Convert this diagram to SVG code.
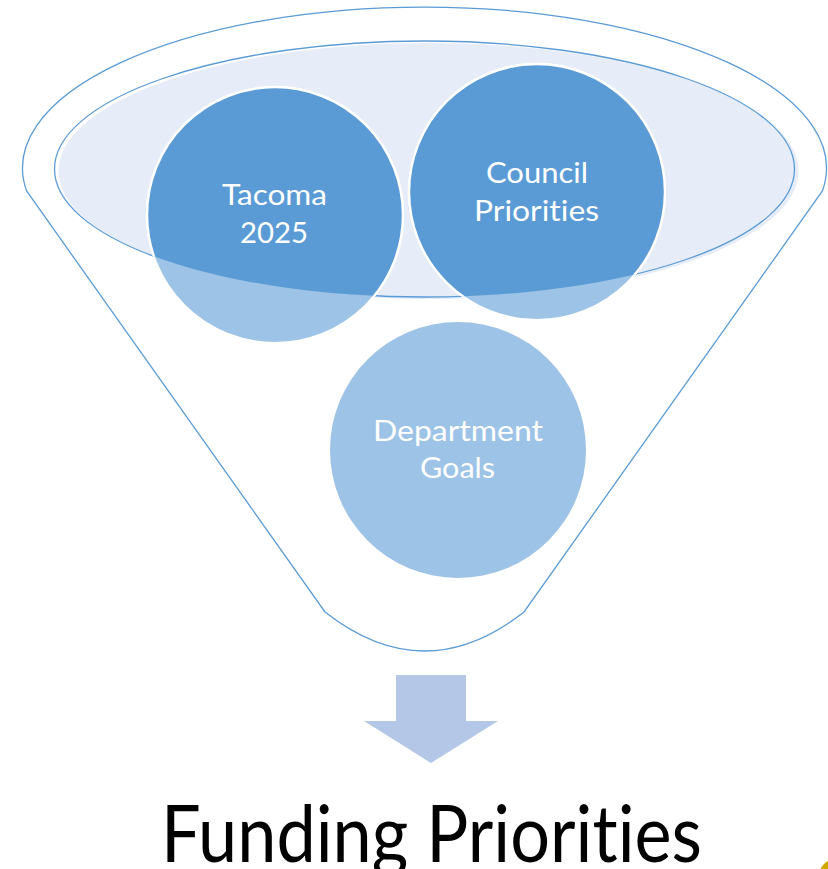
<svg xmlns="http://www.w3.org/2000/svg" width="828" height="869" viewBox="0 0 828 869">
<style>
.line{fill:none;stroke:#5B9BD5;stroke-width:1.3}
.light{fill:#9DC3E6;stroke:#fff;stroke-width:2}
.dark{fill:#5B9BD5;stroke:#fff;stroke-width:2.5}
text{font-variant-ligatures:none;font-feature-settings:"liga" 0,"clig" 0}
.lbl{font-family:Lato,"Open Sans","Liberation Sans",sans-serif;font-size:28px;fill:#fff}
.title{font-family:Lato,"Open Sans","Liberation Sans",sans-serif;font-size:79px;fill:#000}
</style>
<defs>
<clipPath id="mouth"><ellipse cx="424.5" cy="169" rx="370" ry="128"/></clipPath>
</defs>
<rect width="828" height="869" fill="#fff"/>
<g id="funnel">
<path class="line" d="M26.6,191 A402,161 0 1 1 822.4,191 L524,612 Q424.5,690 325,612 Z"/>
<ellipse cx="428.5" cy="171" rx="370" ry="128" fill="#E7EDF8"/>
<ellipse class="line" cx="424.5" cy="169" rx="370" ry="128"/>
</g>
<g id="tacoma-2025">
<circle class="light" cx="275" cy="215" r="128"/>
<circle class="dark" cx="275" cy="215" r="128" clip-path="url(#mouth)"/>
<text class="lbl" x="222" y="205" textLength="105" lengthAdjust="spacingAndGlyphs">Tacoma</text>
<text class="lbl" x="240" y="243" textLength="68" lengthAdjust="spacingAndGlyphs">2025</text>
</g>
<g id="council-priorities">
<circle class="light" cx="537" cy="192" r="128"/>
<circle class="dark" cx="537" cy="192" r="128" clip-path="url(#mouth)"/>
<text class="lbl" x="486" y="183" textLength="102" lengthAdjust="spacingAndGlyphs">Council</text>
<text class="lbl" x="474" y="221" textLength="125" lengthAdjust="spacingAndGlyphs">Priorities</text>
</g>
<g id="department-goals">
<circle cx="458" cy="450" r="128" fill="#9DC3E6"/>
<text class="lbl" x="373" y="441" textLength="170" lengthAdjust="spacingAndGlyphs">Department</text>
<text class="lbl" x="420" y="478" textLength="75" lengthAdjust="spacingAndGlyphs">Goals</text>
</g>
<g id="connectors">
<path d="M396,675 H466 V721 H498 L431,763 L364,721 H396 Z" fill="#B4C7E7"/>
</g>
<g id="funding-priorities">
<text class="title" x="161" y="862" textLength="541" lengthAdjust="spacingAndGlyphs">Funding Priorities</text>
</g>
<circle cx="836" cy="876" r="17" fill="#D1A800"/>
</svg>
